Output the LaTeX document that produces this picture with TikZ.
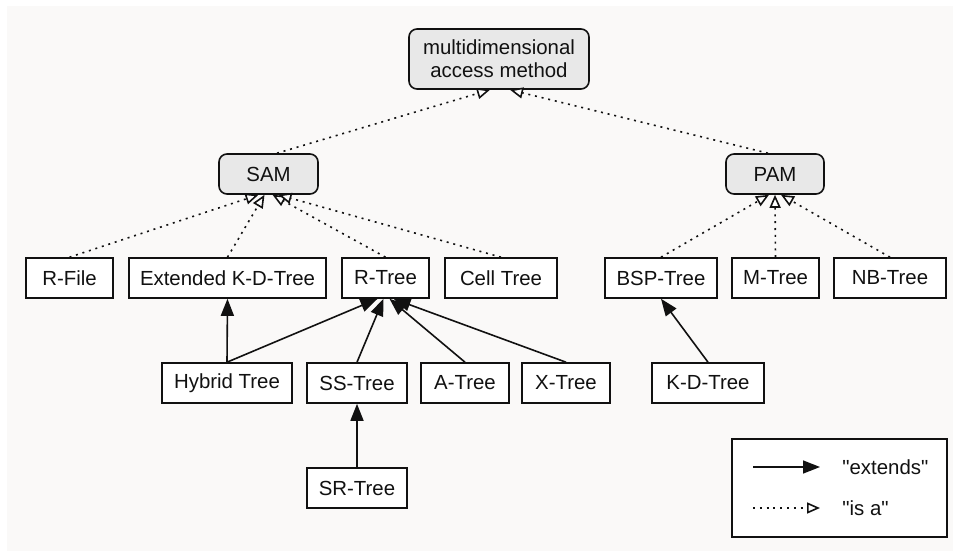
\documentclass[tikz,border=0pt]{standalone}
\usepackage{fontspec}
\setmainfont{Liberation Sans}
\newfontfamily\legendfont{Liberation Sans}[Ligatures=TeXOff]
\usepackage{xcolor}
\usepackage{tikz}
\usetikzlibrary{arrows.meta}
\definecolor{pagebg}{HTML}{FAF9F8}
\definecolor{ink}{HTML}{111111}
\definecolor{absfill}{HTML}{E8E8E8}
\tikzset{
  cbox/.style={draw=ink, fill=white, minimum height=20pt, inner sep=0pt, line width=0.8pt,
    font=\fontsize{10.2}{11.6}\selectfont, text=ink},
  abox/.style={cbox, fill=absfill, rounded corners=4pt, align=center},
  lbl/.style={anchor=west, inner sep=0pt, font=\legendfont\fontsize{10.2}{11.6}\selectfont, text=ink},
  ext/.style={-{Triangle[length=8.5pt, width=6.5pt]}, draw=ink, line width=0.8pt},
  isa/.style={-{Triangle[length=6.5pt, width=5.5pt, fill=white]}, draw=ink, line width=0.8pt,
    dash pattern=on 1pt off 2.4pt}
}

\begin{document}
\begin{tikzpicture}[x=0.5pt, y=-0.5pt]
\fill[pagebg] (7,6) rectangle (953,551);
\useasboundingbox (0,0) rectangle (953,551);
% abstract types
\node[abox, minimum width=90pt, minimum height=30pt] (mam) at (499,59) {multidimensional\\access method};
\node[abox, minimum width=49.5pt] (sam) at (268.5,174) {SAM};
\node[abox, minimum width=49pt] (pam) at (775,174) {PAM};
% concrete structures
\node[cbox, minimum width=43.5pt] (rfile) at (69.5,278) {R-File};
\node[cbox, minimum width=98.5pt] (extkd) at (227.5,278) {Extended K-D-Tree};
\node[cbox, minimum width=43.5pt] (rtree) at (385.5,278) {R-Tree};
\node[cbox, minimum width=56pt] (cell) at (501,278) {Cell Tree};
\node[cbox, minimum width=56pt] (bsp) at (661,278) {BSP-Tree};
\node[cbox, minimum width=43.5pt] (mtree) at (775.5,278) {M-Tree};
\node[cbox, minimum width=56pt] (nbtree) at (890,278) {NB-Tree};
\node[cbox, minimum width=65pt] (hybrid) at (227,383) {Hybrid Tree};
\node[cbox, minimum width=50pt] (sstree) at (357,383) {SS-Tree};
\node[cbox, minimum width=44pt] (atree) at (465,383) {A-Tree};
\node[cbox, minimum width=44pt] (xtree) at (566,383) {X-Tree};
\node[cbox, minimum width=56pt] (kdtree) at (708,383) {K-D-Tree};
\node[cbox, minimum width=50pt] (srtree) at (357,488) {SR-Tree};
% "is a"
\draw[isa] ([xshift=4.25pt]sam.north) -- ([xshift=-4.5pt]mam.south);
\draw[isa] ([xshift=-3.5pt]pam.north) -- ([xshift=5.5pt]mam.south);
\draw[isa] (rfile.north) -- ([xshift=-5pt]sam.south);
\draw[isa] (extkd.north) -- ([xshift=-2pt]sam.south);
\draw[isa] (rtree.north) -- ([xshift=2pt]sam.south);
\draw[isa] (cell.north) -- ([xshift=5pt]sam.south);
\draw[isa] (bsp.north) -- ([xshift=-3pt]pam.south);
\draw[isa] (mtree.north) -- (pam.south);
\draw[isa] (nbtree.north) -- ([xshift=3pt]pam.south);
% "extends"
\draw[ext] (hybrid.north) -- (extkd.south);
\draw[ext] (hybrid.north) -- ([xshift=-4pt]rtree.south);
\draw[ext] (sstree.north) -- ([xshift=-1pt]rtree.south);
\draw[ext] (atree.north) -- ([xshift=2pt]rtree.south);
\draw[ext] (xtree.north) -- ([xshift=4pt]rtree.south);
\draw[ext] (kdtree.north) -- (bsp.south);
\draw[ext] (srtree.north) -- (sstree.south);
% legend
\node[draw=ink, fill=white, line width=0.6pt, minimum width=107.5pt, minimum height=49pt] (legend) at (839.5,488) {};
\coordinate (exta) at (753,467);
\coordinate (extb) at (820,467);
\coordinate (isaa) at (753,508);
\coordinate (isab) at (820,508);
\draw[ext] (exta) -- (extb);
\draw[isa] (isaa) -- (isab);
\node[lbl] (extlbl) at (842,467) {"extends"};
\node[lbl] (isalbl) at (842,508) {"is a"};
\end{tikzpicture}
\end{document}
